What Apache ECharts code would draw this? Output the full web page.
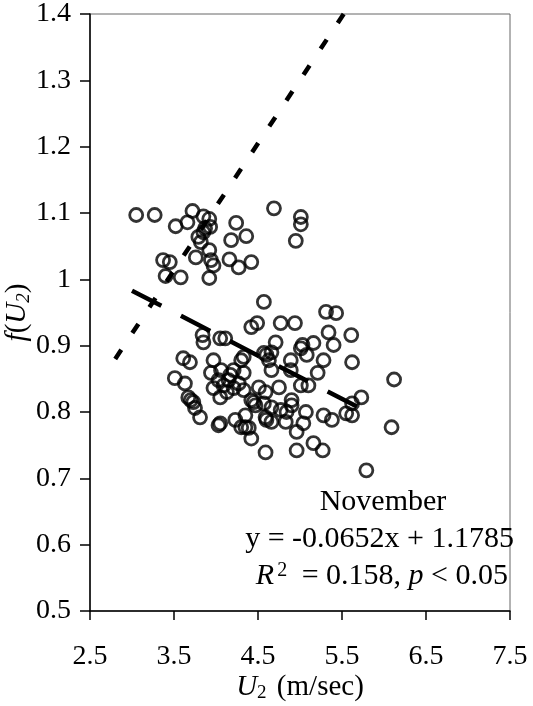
<!DOCTYPE html>
<html>
<head>
<meta charset="utf-8">
<script src="https://cdn.jsdelivr.net/npm/echarts@6/dist/echarts.min.js"></script>
<style>
  html, body { margin: 0; padding: 0; background: #fff; }
  #chart { width: 533px; height: 706px; }
</style>
</head>
<body>
<div id="chart"></div>
<script>
// Daily wind speed at 2 m (m/sec) and the wind function f(U2), November
const windSpeed = [
  3.05,3.27,3.72,3.52,3.66,3.85,3.92,3.93,3.87,3.79,3.82,3.92,3.76,3.94,3.97,3.92,4.24,4.36,4.18,4.16,4.27,4.42,3.37,3.45,3.40,3.58,4.69,5.01,5.01,4.95,3.85,
  4.57,3.84,3.85,4.05,4.11,4.42,4.49,4.77,4.94,5.31,5.43,5.34,5.40,5.61,5.62,6.12,4.71,4.60,4.66,5.01,5.03,5.16,5.08,4.89,5.28,5.21,4.66,4.30,3.61,3.69,3.97,4.33,3.51,3.63,3.67,3.70,3.75,3.81,3.73,4.05,4.03,4.23,4.30,4.39,4.42,4.59,
  3.94,3.97,4.05,4.06,4.21,4.15,4.09,4.21,4.27,4.33,4.13,4.17,4.03,
  4.51,4.75,4.47,4.59,4.66,4.83,4.77,4.90,5.07,5.04,4.96,5.01,5.10,4.35,4.96,5.16,5.27,5.28,5.38,5.55,5.62,5.62,5.73,6.09,5.79,
  4.57,4.63,4.59,4.57,4.66,4.84,4.90,4.60,4.89,4.45,4.33,4.42,4.35
];
const windFunction = [
  1.097,1.097,1.103,1.080,1.086,1.095,1.091,1.079,1.077,1.064,1.056,1.044,1.033,1.029,1.021,1.002,1.085,1.065,1.059,1.030,1.018,1.026,1.029,1.026,1.005,1.003,1.107,1.094,1.083,1.058,1.071,
  0.966,0.916,0.905,0.911,0.911,0.928,0.934,0.934,0.934,0.951,0.949,0.920,0.901,0.916,0.875,0.849,0.905,0.886,0.890,0.896,0.901,0.904,0.886,0.878,0.878,0.859,0.863,0.878,0.881,0.875,0.878,0.883,0.851,0.843,0.822,0.818,0.806,0.792,0.815,0.783,0.780,0.788,0.777,0.776,0.760,0.739,
  0.859,0.836,0.822,0.863,0.863,0.848,0.840,0.836,0.843,0.833,0.830,0.856,0.848,
  0.837,0.837,0.810,0.792,0.785,0.785,0.803,0.810,0.800,0.783,0.770,0.840,0.840,0.777,0.742,0.753,0.742,0.795,0.788,0.798,0.795,0.813,0.822,0.777,0.712,
  0.889,0.878,0.830,0.813,0.807,0.800,0.818,0.788,0.863,0.815,0.859,0.818,0.795
];

// Linear fit: y = slope * x + intercept, drawn across the fitted wind-speed range
const fitSlope = -0.0652;
const fitIntercept = 1.1785;
const fitRange = [3.0, 5.9];

// Reference wind function (steep dotted line), end points
const referenceX = [2.8, 5.52];
const referenceY = [0.88, 1.40];

const xTicks = [2.5, 3.5, 4.5, 5.5, 6.5, 7.5];
const yTicks = [0.5, 0.6, 0.7, 0.8, 0.9, 1.0, 1.1, 1.2, 1.3, 1.4];

const serif = '"Liberation Serif", "DejaVu Serif", serif';

const points = windSpeed.map((x, i) => [x, windFunction[i]]);
const fitLine = fitRange.map(x => [x, fitSlope * x + fitIntercept]);
const refLine = referenceX.map((x, i) => [x, referenceY[i]]);

const chart = echarts.init(document.getElementById('chart'), null, { renderer: 'canvas' });

chart.setOption({
  animation: false,
  backgroundColor: '#ffffff',
  grid: {
    left: 90, right: 23, top: 14, bottom: 95,
    outerBoundsMode: 'none',
    containLabel: false,
    show: true, borderColor: '#666', borderWidth: 1, backgroundColor: 'transparent'
  },
  xAxis: {
    type: 'value',
    min: xTicks[0], max: xTicks[xTicks.length - 1],
    interval: 1,
    name: '{i|U}{s|2} (m/sec)',
    nameLocation: 'middle',
    nameGap: 60,
    nameMoveOverlap: false,
    nameTextStyle: {
      fontFamily: serif, fontSize: 29, color: '#000',
      rich: {
        i: { fontFamily: serif, fontSize: 29, fontStyle: 'italic', color: '#000' },
        s: { fontFamily: serif, fontSize: 19, color: '#000', verticalAlign: 'bottom', padding: [13, 3, 0, 0] }
      }
    },
    axisLine: { onZero: false, lineStyle: { color: '#000', width: 1.5 } },
    axisTick: { show: true, inside: false, length: 9, customValues: xTicks, lineStyle: { color: '#000', width: 1.5 } },
    axisLabel: {
      customValues: xTicks,
      margin: 32,
      fontFamily: serif, fontSize: 28, color: '#000',
      formatter: v => v.toFixed(1)
    },
    splitLine: { show: false }
  },
  yAxis: {
    type: 'value',
    min: yTicks[0], max: yTicks[yTicks.length - 1],
    interval: 0.1,
    name: '{i|f}({i|U}{s|2})',
    nameLocation: 'middle',
    nameGap: 57,
    nameRotate: 90,
    nameMoveOverlap: false,
    nameTextStyle: {
      fontFamily: serif, fontSize: 29, color: '#000',
      rich: {
        i: { fontFamily: serif, fontSize: 29, fontStyle: 'italic', color: '#000' },
        s: { fontFamily: serif, fontSize: 19, fontStyle: 'italic', color: '#000', verticalAlign: 'bottom', padding: [13, 0, 0, 0] }
      }
    },
    axisLine: { show: true, onZero: false, lineStyle: { color: '#000', width: 1.5 } },
    axisTick: { show: true, inside: false, length: 10, customValues: yTicks, lineStyle: { color: '#000', width: 1.5 } },
    axisLabel: {
      customValues: yTicks,
      margin: 19,
      fontFamily: serif, fontSize: 28, color: '#000',
      formatter: v => String(+v.toFixed(1))
    },
    splitLine: { show: false }
  },
  series: [
    {
      type: 'scatter',
      data: points,
      symbol: 'circle',
      symbolSize: 13,
      itemStyle: { color: 'transparent', borderColor: '#000', borderWidth: 2.8 },
      z: 2
    },
    {
      type: 'line',
      data: refLine,
      symbol: 'none',
      clip: true,
      lineStyle: { color: '#000', width: 4.5, type: [11, 20], cap: 'butt' },
      z: 3
    },
    {
      type: 'line',
      data: fitLine,
      symbol: 'none',
      lineStyle: { color: '#000', width: 4.5, type: [33, 22], cap: 'butt' },
      z: 3
    }
  ],
  graphic: [
    {
      type: 'text', x: 383, y: 502, z: 10,
      style: { text: 'November', fontFamily: serif, fontSize: 30, fill: '#000', align: 'center', verticalAlign: 'middle' }
    },
    {
      type: 'text', x: 514, y: 539, z: 10,
      style: { text: 'y = -0.0652x + 1.1785', fontFamily: serif, fontSize: 30, fill: '#000', align: 'right', verticalAlign: 'middle' }
    },
    {
      type: 'text', x: 508, y: 576, z: 10,
      style: {
        text: '{i|R}{sup|2} = 0.158, {i|p} < 0.05',
        fontFamily: serif, fontSize: 30, fill: '#000', align: 'right', verticalAlign: 'middle',
        rich: {
          i: { fontFamily: serif, fontSize: 30, fontStyle: 'italic', fill: '#000' },
          sup: { fontFamily: serif, fontSize: 20, fill: '#000', verticalAlign: 'top', padding: [0, 7, 11, 3] }
        }
      }
    }
  ]
});
</script>
</body>
</html>
